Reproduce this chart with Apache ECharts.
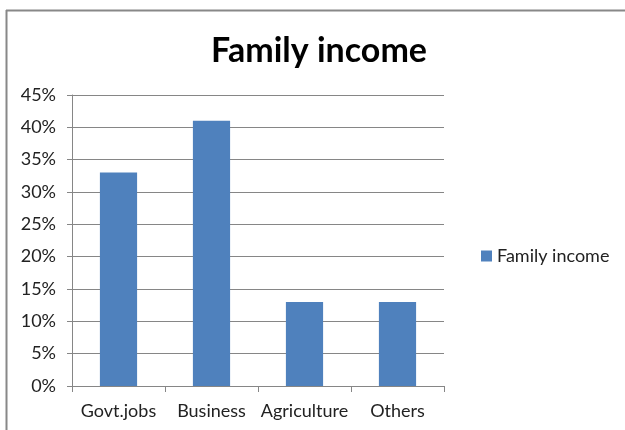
<!DOCTYPE html>
<html>
<head>
<meta charset="utf-8">
<script src="https://cdn.jsdelivr.net/npm/echarts@6/dist/echarts.min.js"></script>
<style>
  html, body { margin: 0; padding: 0; background: #fff; }
  #chart { width: 625px; height: 430px; }
</style>
</head>
<body>
<div id="chart"></div>
<script>
// Share of families by main source of income
const categories = ['Govt.jobs', 'Business', 'Agriculture', 'Others'];
const familyIncome = [33, 41, 13, 13];
const seriesName = 'Family income';
const titleText = 'Family income';

const FONT = 'Lato, "Open Sans", sans-serif';

const chart = echarts.init(document.getElementById('chart'), null, { renderer: 'canvas' });

chart.setOption({
  animation: false,
  backgroundColor: '#ffffff',
  title: {
    text: titleText,
    left: 314,
    top: 29,
    textAlign: 'center',
    textStyle: { fontFamily: FONT, fontSize: 34, fontWeight: 'bold', color: '#000' }
  },
  legend: {
    data: [seriesName],
    left: 476,
    top: 242,
    itemWidth: 11,
    itemHeight: 11,
    itemGap: 6,
    icon: 'rect',
    textStyle: { fontFamily: FONT, fontSize: 18, color: '#222' }
  },
  grid: { left: 72, right: 181, top: 95, bottom: 44, containLabel: false },
  xAxis: {
    type: 'category',
    data: categories,
    axisLine: { lineStyle: { color: '#868686', width: 1 } },
    axisTick: { show: true, alignWithLabel: false, length: 6, lineStyle: { color: '#868686' } },
    axisLabel: { interval: 0, fontFamily: FONT, fontSize: 18, color: '#222', margin: 16 }
  },
  yAxis: {
    type: 'value',
    min: 0,
    max: 45,
    interval: 5,
    axisLine: { show: true, lineStyle: { color: '#868686', width: 1 } },
    axisTick: { show: true, length: 5, lineStyle: { color: '#868686' } },
    axisLabel: { fontFamily: FONT, fontSize: 18, color: '#222', margin: 16, formatter: '{value}%' },
    splitLine: { lineStyle: { color: '#868686', width: 1 } }
  },
  series: [{
    name: seriesName,
    type: 'bar',
    data: familyIncome,
    barWidth: '40%',
    itemStyle: { color: '#4F81BD' }
  }],
  graphic: [
    { type: 'line', shape: { x1: 6, y1: 10.5, x2: 625, y2: 10.5 }, style: { stroke: '#888', lineWidth: 2 } },
    { type: 'line', shape: { x1: 6.5, y1: 10, x2: 6.5, y2: 430 }, style: { stroke: '#888', lineWidth: 2 } }
  ]
});
</script>
</body>
</html>
